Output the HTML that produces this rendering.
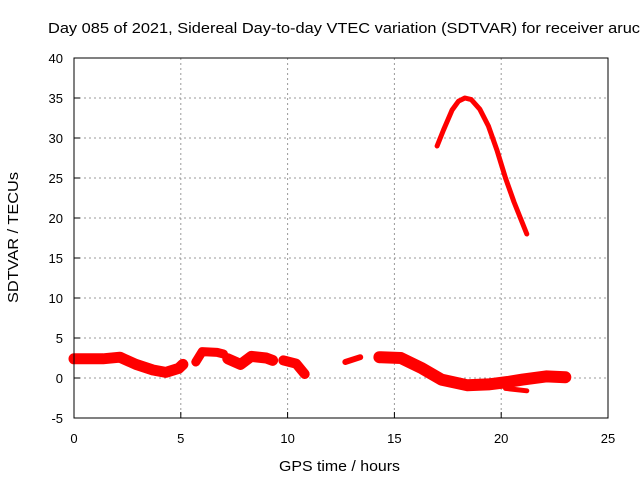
<!DOCTYPE html>
<html><head><meta charset="utf-8"><style>
body{margin:0;background:#fff}
svg text{font-family:"Liberation Sans",sans-serif;font-size:13px;fill:#000}
</style></head><body>
<svg width="640" height="480" id="c">
<rect width="640" height="480" fill="#fff"/>
<text x="48" y="33" style="font-size:15px" textLength="592" lengthAdjust="spacingAndGlyphs">Day 085 of 2021, Sidereal Day-to-day VTEC variation (SDTVAR) for receiver aruc</text>
<text x="279" y="471" style="font-size:15px" textLength="121" lengthAdjust="spacingAndGlyphs">GPS time / hours</text>
<text transform="translate(18,303) rotate(-90)" style="font-size:15px" textLength="131" lengthAdjust="spacingAndGlyphs">SDTVAR / TECUs</text>
<g id="grid"></g><g id="marks"></g>
<rect x="74" y="58" width="534" height="360" fill="none" stroke="#000"/>
</svg>
<script>
const xTicks=[0,5,10,15,20,25];
const yTicks=[-5,0,5,10,15,20,25,30,35,40];
const seg1T=[0,1.36,2.15,2.9,3.7,4.3,4.9,5.1];
const seg1V=[2.4,2.4,2.6,1.7,1.0,0.7,1.2,1.7];
const seg2T=[5.7,6.0,6.7,7.0];
const seg2V=[2.0,3.3,3.2,3.0];
const seg3T=[7.2,7.8,8.3,9.0,9.3];
const seg3V=[2.4,1.7,2.7,2.5,2.2];
const seg4T=[9.8,10.4,10.8];
const seg4V=[2.2,1.8,0.5];
const seg5T=[12.7,13.4];
const seg5V=[2.0,2.6];
const seg6T=[14.3,15.3,16.3,17.2,18.4,19.4,20.3,21.0,22.1,23.0];
const seg6V=[2.6,2.5,1.2,-0.2,-0.9,-0.8,-0.5,-0.2,0.2,0.1];
const seg7T=[20.2,21.2];
const seg7V=[-1.3,-1.6];
const arcT=[17.0,17.3,17.7,18.0,18.3,18.6,19.0,19.4,19.8,20.2,20.6,21.2];
const arcV=[29,31,33.5,34.6,35,34.8,33.6,31.5,28.5,25,22,18];
const X=t=>74+t*534/25, Y=v=>378-v*8;
const NS="http://www.w3.org/2000/svg";
const g=document.getElementById('grid'), m=document.getElementById('marks');
function mk(tag,a,p){const e=document.createElementNS(NS,tag);for(const k in a)e.setAttribute(k,a[k]);p.appendChild(e);return e;}
xTicks.forEach(t=>{
 if(t>0&&t<25){const l=mk('line',{x1:X(t),x2:X(t),y1:58,y2:418,stroke:'#999','stroke-dasharray':'2,3'},g);
 
 }
 mk('line',{x1:X(t),x2:X(t),y1:418,y2:412,stroke:'#000'},g);
 const tx=mk('text',{x:X(t),y:443,'text-anchor':'middle'},g);tx.textContent=t;
 
 
});
yTicks.forEach(v=>{
 if(v>-5&&v<40){const l=mk('line',{x1:74,x2:608,y1:Y(v),y2:Y(v),stroke:'#999','stroke-dasharray':'2,3'},g);
 
 }
 mk('line',{x1:74,x2:80,y1:Y(v),y2:Y(v),stroke:'#000'},g);
 const tx=mk('text',{x:63,y:Y(v)+5,'text-anchor':'end'},g);tx.textContent=v;
 
 
});
function draw(T,V,w,name){
 const d=T.map((t,i)=>(i?'L':'M')+X(t).toFixed(1)+','+Y(V[i]).toFixed(1)).join('');
 const p=mk('path',{d:d,fill:'none',stroke:'#f00','stroke-width':w,'stroke-linejoin':'round','stroke-linecap':'round'},m);
 
 
}
draw(seg1T,seg1V,11,'series-segment-1');
draw(seg2T,seg2V,9,'series-segment-2');
draw(seg3T,seg3V,11,'series-segment-3');
draw(seg4T,seg4V,10,'series-segment-4');
draw(seg5T,seg5V,6,'series-segment-5');
draw(seg6T,seg6V,12,'series-segment-6');
draw(seg7T,seg7V,5,'series-segment-7');
draw(arcT,arcV,5,'series-arc');
</script>
</body></html>
